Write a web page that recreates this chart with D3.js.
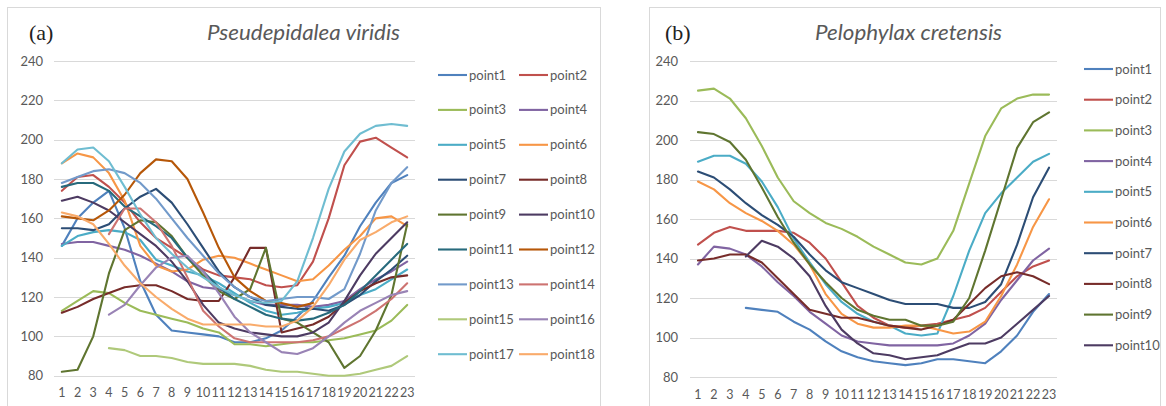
<!DOCTYPE html>
<html><head><meta charset="utf-8">
<script src="https://cdn.jsdelivr.net/npm/d3@7"></script>
<style>body{margin:0;background:#fff;}svg{display:block;}</style>
</head><body>
<svg id="c" width="1166" height="406"></svg>
<script>
const categories = d3.range(1, 24);
const yTicks = [80, 100, 120, 140, 160, 180, 200, 220, 240];
const colors = ["#4F81BD","#C0504D","#9BBB59","#8064A2","#4BACC6","#F79646","#2C4D75","#772C2A","#5F7530","#4D3B62","#276A7C","#B65708","#729ACA","#CD7371","#AFC97A","#9983B5","#6FBDD1","#F9AB6B"];
const _ = null;

// Panel (a) Pseudepidalea viridis
const titleA = "Pseudepidalea viridis";
const a_point1  = [146,160,168,174,155,128,111,103,102,101,100,97,97,99,103,110,118,130,141,156,168,178,182];
const a_point2  = [174,181,182,176,168,158,150,145,140,134,131,130,129,126,125,126,138,160,187,199,201,196,191];
const a_point3  = [113,118,123,122,117,113,111,109,107,104,102,96,96,95,96,97,97,98,99,101,103,108,116];
const a_point4  = [147,148,148,146,144,141,137,133,128,125,124,121,118,116,116,116,115,116,118,124,129,133,138];
const a_point5  = [146,151,153,154,153,149,139,136,133,131,127,122,117,113,111,112,114,115,117,121,124,129,134];
const a_point6  = [188,193,191,183,169,146,136,133,134,139,141,140,137,134,131,128,129,136,144,151,160,161,156];
const a_point7  = [155,155,154,157,165,171,175,168,157,145,133,125,120,116,115,114,114,113,116,121,128,134,141];
const a_point8  = [112,115,119,122,125,126,126,123,119,118,118,130,145,145,102,104,106,110,117,123,127,130,131];
const a_point9  = [82,83,100,132,154,159,158,151,140,131,123,119,124,145,109,107,102,97,84,90,103,121,157];
const a_point10 = [169,171,168,164,158,152,146,138,128,116,107,104,102,101,100,100,102,107,118,131,142,150,158];
const a_point11 = [176,178,178,174,166,161,156,150,140,133,125,119,115,111,109,108,109,112,116,123,131,139,147];
const a_point12 = [161,160,159,164,172,183,190,189,180,163,145,130,123,118,117,115,117,_,_,_,_,_,_];
const a_point13 = [178,181,184,185,183,178,170,160,150,141,132,125,120,118,119,120,120,119,124,142,164,178,186];
const a_point14 = [_,_,_,152,165,165,158,146,130,113,105,99,97,97,97,97,98,100,104,108,113,119,127];
const a_point15 = [_,_,_,94,93,90,90,89,87,86,86,86,85,83,82,82,81,80,80,81,83,85,90];
const a_point16 = [_,_,_,111,116,126,135,140,141,133,122,110,102,97,92,91,94,100,107,113,117,121,123];
const a_point17 = [188,195,196,189,176,162,150,142,135,130,125,121,118,117,118,128,150,175,194,203,207,208,207];
const a_point18 = [163,161,157,147,136,127,120,114,109,106,106,106,106,105,105,108,115,126,139,149,153,158,161];
const seriesA = [a_point1,a_point2,a_point3,a_point4,a_point5,a_point6,a_point7,a_point8,a_point9,a_point10,a_point11,a_point12,a_point13,a_point14,a_point15,a_point16,a_point17,a_point18];

// Panel (b) Pelophylax cretensis
const titleB = "Pelophylax cretensis";
const b_point1  = [_,_,_,115,114,113,108,104,98,93,90,88,87,86,87,89,89,88,87,93,101,113,122];
const b_point2  = [147,153,156,154,154,154,153,148,140,128,116,110,106,105,106,107,109,111,115,123,131,136,139];
const b_point3  = [225,226,221,211,197,181,169,163,158,155,151,146,142,138,137,140,154,178,202,216,221,223,223];
const b_point4  = [137,146,145,142,136,128,121,113,107,101,98,97,96,96,96,96,97,101,107,119,129,139,145];
const b_point5  = [189,192,192,188,179,166,150,138,127,118,112,108,106,102,101,102,121,144,163,173,181,189,193];
const b_point6  = [179,175,168,163,159,154,147,137,122,112,107,105,105,106,106,104,102,103,108,121,137,156,170];
const b_point7  = [184,181,175,168,162,157,151,142,134,128,125,122,119,117,117,117,115,115,118,127,147,171,186];
const b_point8  = [139,140,142,142,138,130,122,114,112,110,110,108,106,105,104,106,109,117,125,131,133,131,127];
const b_point9  = [204,203,199,190,176,161,148,137,128,120,114,111,109,109,106,106,108,120,144,170,196,209,214];
const b_point10 = [_,_,_,141,149,146,140,131,116,104,97,92,91,89,90,91,94,97,97,100,107,114,121];
const seriesB = [b_point1,b_point2,b_point3,b_point4,b_point5,b_point6,b_point7,b_point8,b_point9,b_point10];

const svg = d3.select("#c");
const FONT = "Lato, 'Open Sans', sans-serif";
const GRAY = "#595959";

function panel(cfg) {
  const g = svg.append("g");
  g.append("rect").attr("x", cfg.bx).attr("y", 7.5).attr("width", cfg.bw).attr("height", 420)
    .attr("fill", "none").attr("stroke", "#d9d9d9").attr("stroke-width", 1);
  const x = d3.scaleBand().domain(categories).range([cfg.x0, cfg.x1]).padding(0);
  const y = d3.scaleLinear().domain([80, 240]).range([cfg.yb, cfg.yt]);
  g.append("g").selectAll("line").data(yTicks).join("line")
    .attr("x1", cfg.x0).attr("x2", cfg.x1)
    .attr("y1", d => Math.round(y(d)) + 0.5).attr("y2", d => Math.round(y(d)) + 0.5)
    .attr("stroke", "#d9d9d9").attr("stroke-width", 1);
  const ya = g.append("g").attr("transform", `translate(${cfg.ylab},0)`)
    .call(d3.axisLeft(y).tickValues(yTicks).tickSize(0).tickPadding(0));
  ya.select(".domain").remove();
  ya.selectAll("text").attr("font-family", FONT).attr("font-size", 13).attr("fill", GRAY);
  const xa = g.append("g").attr("transform", `translate(0,${cfg.xlab})`)
    .call(d3.axisBottom(x).tickSize(0).tickPadding(0));
  xa.select(".domain").remove();
  xa.selectAll("text").attr("font-family", FONT).attr("font-size", 12.5).attr("fill", GRAY)
    .attr("dy", "0.35em");
  const line = d3.line().defined(d => d != null)
    .x((d, i) => x(categories[i]) + x.bandwidth() / 2).y(d => y(d));
  g.append("g").selectAll("path").data(cfg.series).join("path")
    .attr("d", line).attr("fill", "none")
    .attr("stroke", (d, i) => colors[i]).attr("stroke-width", 2.1)
    .attr("stroke-linejoin", "round").attr("stroke-linecap", "round");
  g.append("text").attr("x", cfg.labX).attr("y", 32).attr("dy", "0.35em")
    .attr("font-family", "'Liberation Serif', serif").attr("font-size", 22).attr("fill", "#222")
    .text(cfg.label);
  g.append("text").attr("x", cfg.tX).attr("y", 33).attr("dy", "0.35em")
    .attr("font-family", FONT).attr("font-style", "italic").attr("font-size", 21).attr("fill", GRAY)
    .attr("textLength", cfg.tW).attr("lengthAdjust", "spacingAndGlyphs")
    .text(cfg.title);
  const lg = g.append("g");
  cfg.series.forEach((s, i) => {
    const col = i % cfg.cols, row = Math.floor(i / cfg.cols);
    const lx = cfg.legX[col], ly = cfg.legY0 + row * cfg.legDy;
    lg.append("line").attr("x1", lx).attr("x2", lx + 29).attr("y1", ly).attr("y2", ly)
      .attr("stroke", colors[i]).attr("stroke-width", 2.1);
    lg.append("text").attr("x", lx + 31).attr("y", ly).attr("dy", "0.35em")
      .attr("font-family", FONT).attr("font-size", 13).attr("fill", GRAY)
      .text("point" + (i + 1));
  });
}

panel({bx: 7.5, bw: 593, x0: 54, x1: 415, yt: 61, yb: 375.7, ylab: 43, xlab: 393,
  series: seriesA, label: "(a)", labX: 29, title: titleA, tX: 207, tW: 193,
  cols: 2, legX: [438, 519], legY0: 75, legDy: 34.9});
panel({bx: 649.5, bw: 511, x0: 690, x1: 1057, yt: 61, yb: 377, ylab: 678, xlab: 395,
  series: seriesB, label: "(b)", labX: 665, title: titleB, tX: 815, tW: 187,
  cols: 1, legX: [1084], legY0: 69, legDy: 30.7});
</script>
</body></html>
